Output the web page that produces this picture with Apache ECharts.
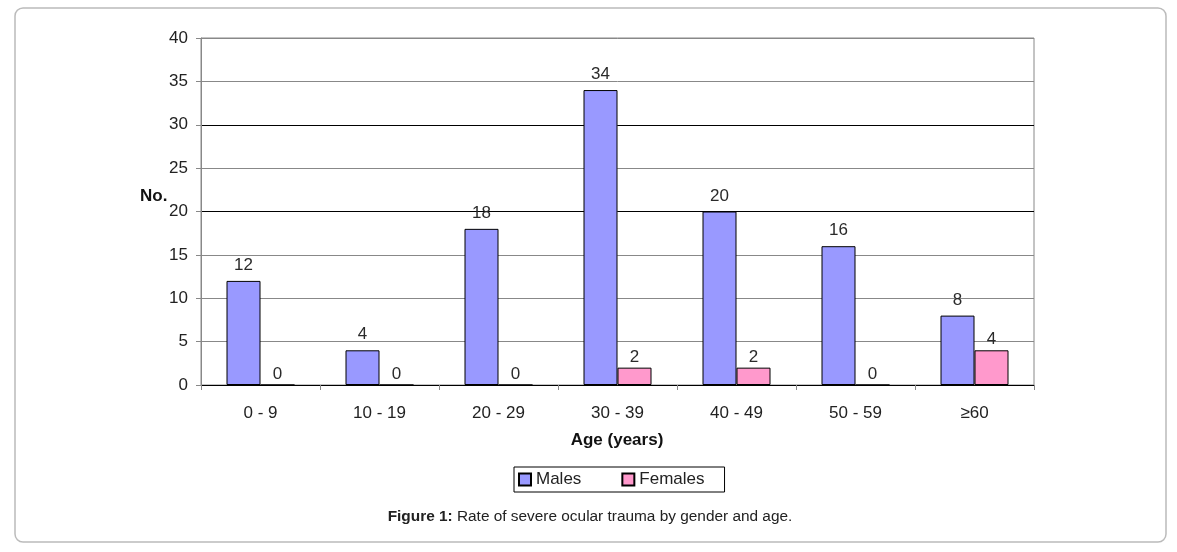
<!DOCTYPE html>
<html>
<head>
<meta charset="utf-8">
<script src="https://cdn.jsdelivr.net/npm/echarts@6/dist/echarts.min.js"></script>
<style>html,body{margin:0;padding:0;background:#fff;}#c{width:1177px;height:552px;}</style>
</head>
<body>
<div id="c"></div>
<script>
const categories = ['0 - 9', '10 - 19', '20 - 29', '30 - 39', '40 - 49', '50 - 59', '≥60'];
const males = [12, 4, 18, 34, 20, 16, 8];
const females = [0, 0, 0, 2, 2, 0, 4];
const seriesNames = ['Males', 'Females'];
const yTicks = { min: 0, max: 40, interval: 5 };
const xTitle = 'Age (years)';
const yTitle = 'No.';

const FONT = '"Liberation Sans", Arial, sans-serif';
const chart = echarts.init(document.getElementById('c'), null, { renderer: 'canvas' });
const gridColors = ['#000', '#888', '#888', '#888', '#000', '#888', '#000', '#888', '#888'];
chart.setOption({
  animation: false,
  backgroundColor: '#fff',
  grid: { left: 201, right: 143, top: 38, bottom: 167, show: true, borderColor: '#888', borderWidth: 1, backgroundColor: 'transparent' },
  legend: {
    data: seriesNames,
    left: 514, top: 467,
    orient: 'horizontal',
    padding: [4, 20, 4, 4],
    itemGap: 40,
    itemWidth: 12, itemHeight: 12,
    icon: 'rect',
    borderColor: '#000', borderWidth: 1,
    textStyle: { fontFamily: FONT, fontSize: 17, color: '#222' }
  },
  xAxis: {
    type: 'category',
    data: categories,
    axisLine: { lineStyle: { color: '#000', width: 1 } },
    axisTick: { show: true, length: 5, lineStyle: { color: '#888' } },
    axisLabel: { fontFamily: FONT, fontSize: 17, color: '#222', margin: 20 },
    splitLine: { show: false }
  },
  yAxis: {
    type: 'value',
    min: yTicks.min, max: yTicks.max, interval: yTicks.interval,
    axisLine: { show: true, lineStyle: { color: '#888' } },
    axisTick: { show: true, length: 5, lineStyle: { color: '#888' } },
    axisLabel: { fontFamily: FONT, fontSize: 17, color: '#222', margin: 13 },
    splitLine: { show: true, lineStyle: { color: gridColors, width: 1 } }
  },
  series: [
    {
      name: seriesNames[0], type: 'bar', data: males,
      barWidth: 34, barGap: '0%',
      itemStyle: { color: '#9999FF', borderColor: '#000', borderWidth: 1 },
      label: { show: true, position: 'top', distance: 7, fontFamily: FONT, fontSize: 17, color: '#2a2a2a' }
    },
    {
      name: seriesNames[1], type: 'bar', data: females,
      barWidth: 34, barGap: '0%',
      itemStyle: { color: '#FF99CC', borderColor: '#000', borderWidth: 1 },
      label: { show: true, position: 'top', distance: 2, fontFamily: FONT, fontSize: 17, color: '#2a2a2a' }
    }
  ],
  graphic: [
    { type: 'rect', x: 15, y: 8, shape: { x: 0, y: 0, width: 1151, height: 534, r: 8 }, style: { fill: 'none', stroke: '#bbb', lineWidth: 1.5 }, silent: true, z: -10 },
    { type: 'text', x: 140, y: 196, style: { text: yTitle, font: 'bold 17px ' + FONT, fill: '#111', textVerticalAlign: 'middle' } },
    { type: 'text', x: 617, y: 440, style: { text: xTitle, font: 'bold 17px ' + FONT, fill: '#111', textAlign: 'center', textVerticalAlign: 'middle' } },
    { type: 'text', x: 590, y: 517, style: {
        text: '{b|Figure 1:} Rate of severe ocular trauma by gender and age.',
        textAlign: 'center', textVerticalAlign: 'middle',
        font: '15.4px ' + FONT, fill: '#222',
        rich: { b: { fontWeight: 'bold', fontFamily: FONT, fontSize: 15.4, fill: '#222' } }
      } }
  ]
});
</script>
</body>
</html>
